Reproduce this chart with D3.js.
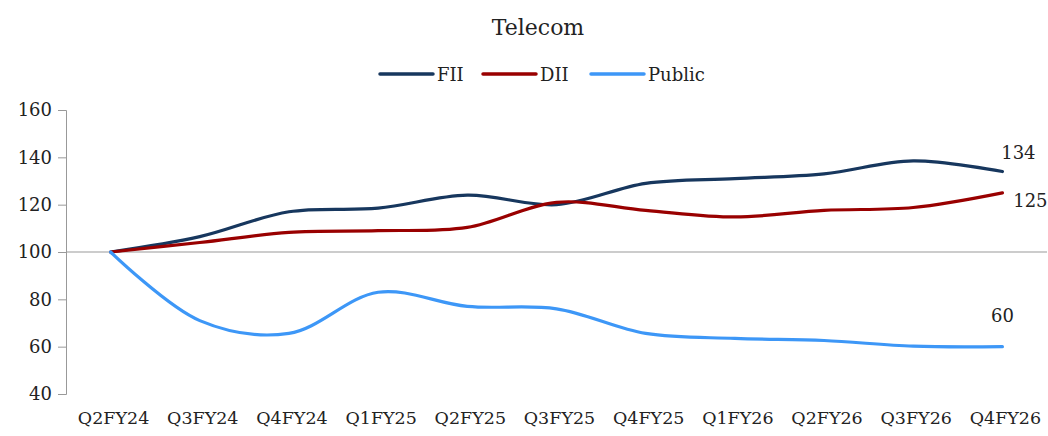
<!DOCTYPE html>
<html>
<head>
<meta charset="utf-8">
<script src="https://cdn.jsdelivr.net/npm/d3@7"></script>
<style>
  body { margin: 0; background: #fff; }
  text { font-family: "DejaVu Serif", "Liberation Serif", serif; fill: #222; }
</style>
</head>
<body>
<script>
var quarters = ["Q2FY24", "Q3FY24", "Q4FY24", "Q1FY25", "Q2FY25", "Q3FY25",
                "Q4FY25", "Q1FY26", "Q2FY26", "Q3FY26", "Q4FY26"];
var fii    = [100, 106.5, 117, 118.5, 124, 120, 129, 131, 133, 138.5, 134];
var dii    = [100, 104, 108.3, 109, 110.4, 121, 117.6, 114.8, 117.6, 118.8, 125];
var pub    = [100, 71, 65.6, 83, 77, 76, 65.6, 63.5, 62.6, 60.2, 60];
var yTicks = [40, 60, 80, 100, 120, 140, 160];

var series = [
  { name: "FII",    values: fii, color: "#17375e", label: "134", dx: 16, dy: -13 },
  { name: "DII",    values: dii, color: "#990000", label: "125", dx: 28, dy: 14 },
  { name: "Public", values: pub, color: "#3d97f7", label: "60",  dx: 0,  dy: -25 }
];

var width = 1048, height = 436;
var svg = d3.select("body").append("svg")
    .attr("width", width)
    .attr("height", height);

var x = d3.scaleBand().domain(quarters).range([66, 1047]);
var y = d3.scaleLinear().domain([40, 160]).range([394, 110]);
var cx = function(d) { return x(d) + x.bandwidth() / 2; };

// title
svg.append("text")
    .attr("x", 538).attr("y", 35)
    .attr("text-anchor", "middle")
    .style("font-size", "22px")
    .text("Telecom");

// legend
var legendX = [380, 483, 591];
series.forEach(function(s, i) {
  var lg = svg.append("g").attr("transform", "translate(" + legendX[i] + ",74)");
  lg.append("line")
      .attr("x1", 0).attr("x2", 53)
      .attr("stroke", s.color).attr("stroke-width", 3.5)
      .attr("stroke-linecap", "round");
  lg.append("text")
      .attr("x", 57).attr("y", 7)
      .style("font-size", "18px")
      .text(s.name);
});

// y axis
var yAxis = svg.append("g")
    .attr("transform", "translate(66,0)")
    .call(d3.axisLeft(y).tickValues(yTicks).tickSize(8).tickPadding(6));
yAxis.select(".domain").attr("stroke", "#999");
yAxis.selectAll(".tick line").attr("stroke", "#999");
yAxis.selectAll(".tick text")
    .style("font-size", "18px")
    .style("fill", "#222")
    .style("font-family", "'DejaVu Serif', serif");

// category axis crossing at 100
svg.append("line")
    .attr("x1", 66).attr("x2", 1047)
    .attr("y1", y(100)).attr("y2", y(100))
    .attr("stroke", "#999").attr("stroke-width", 1);

// x labels at bottom
svg.append("g").selectAll("text")
    .data(quarters)
  .enter().append("text")
    .attr("x", function(d) { return cx(d) + 3; })
    .attr("y", 424)
    .attr("text-anchor", "middle")
    .style("font-size", "17.5px")
    .text(function(d) { return d; });

// lines
var line = d3.line()
    .x(function(d, i) { return cx(quarters[i]); })
    .y(function(d) { return y(d); })
    .curve(d3.curveCatmullRom.alpha(0.5));

series.forEach(function(s) {
  svg.append("path")
      .datum(s.values)
      .attr("fill", "none")
      .attr("stroke", s.color)
      .attr("stroke-width", 3.2)
      .attr("stroke-linecap", "round")
      .attr("d", line);

  var last = s.values.length - 1;
  svg.append("text")
      .attr("x", cx(quarters[last]) + s.dx)
      .attr("y", y(s.values[last]) + s.dy)
      .attr("text-anchor", "middle")
      .style("font-size", "18px")
      .text(s.label);
});
</script>
</body>
</html>
